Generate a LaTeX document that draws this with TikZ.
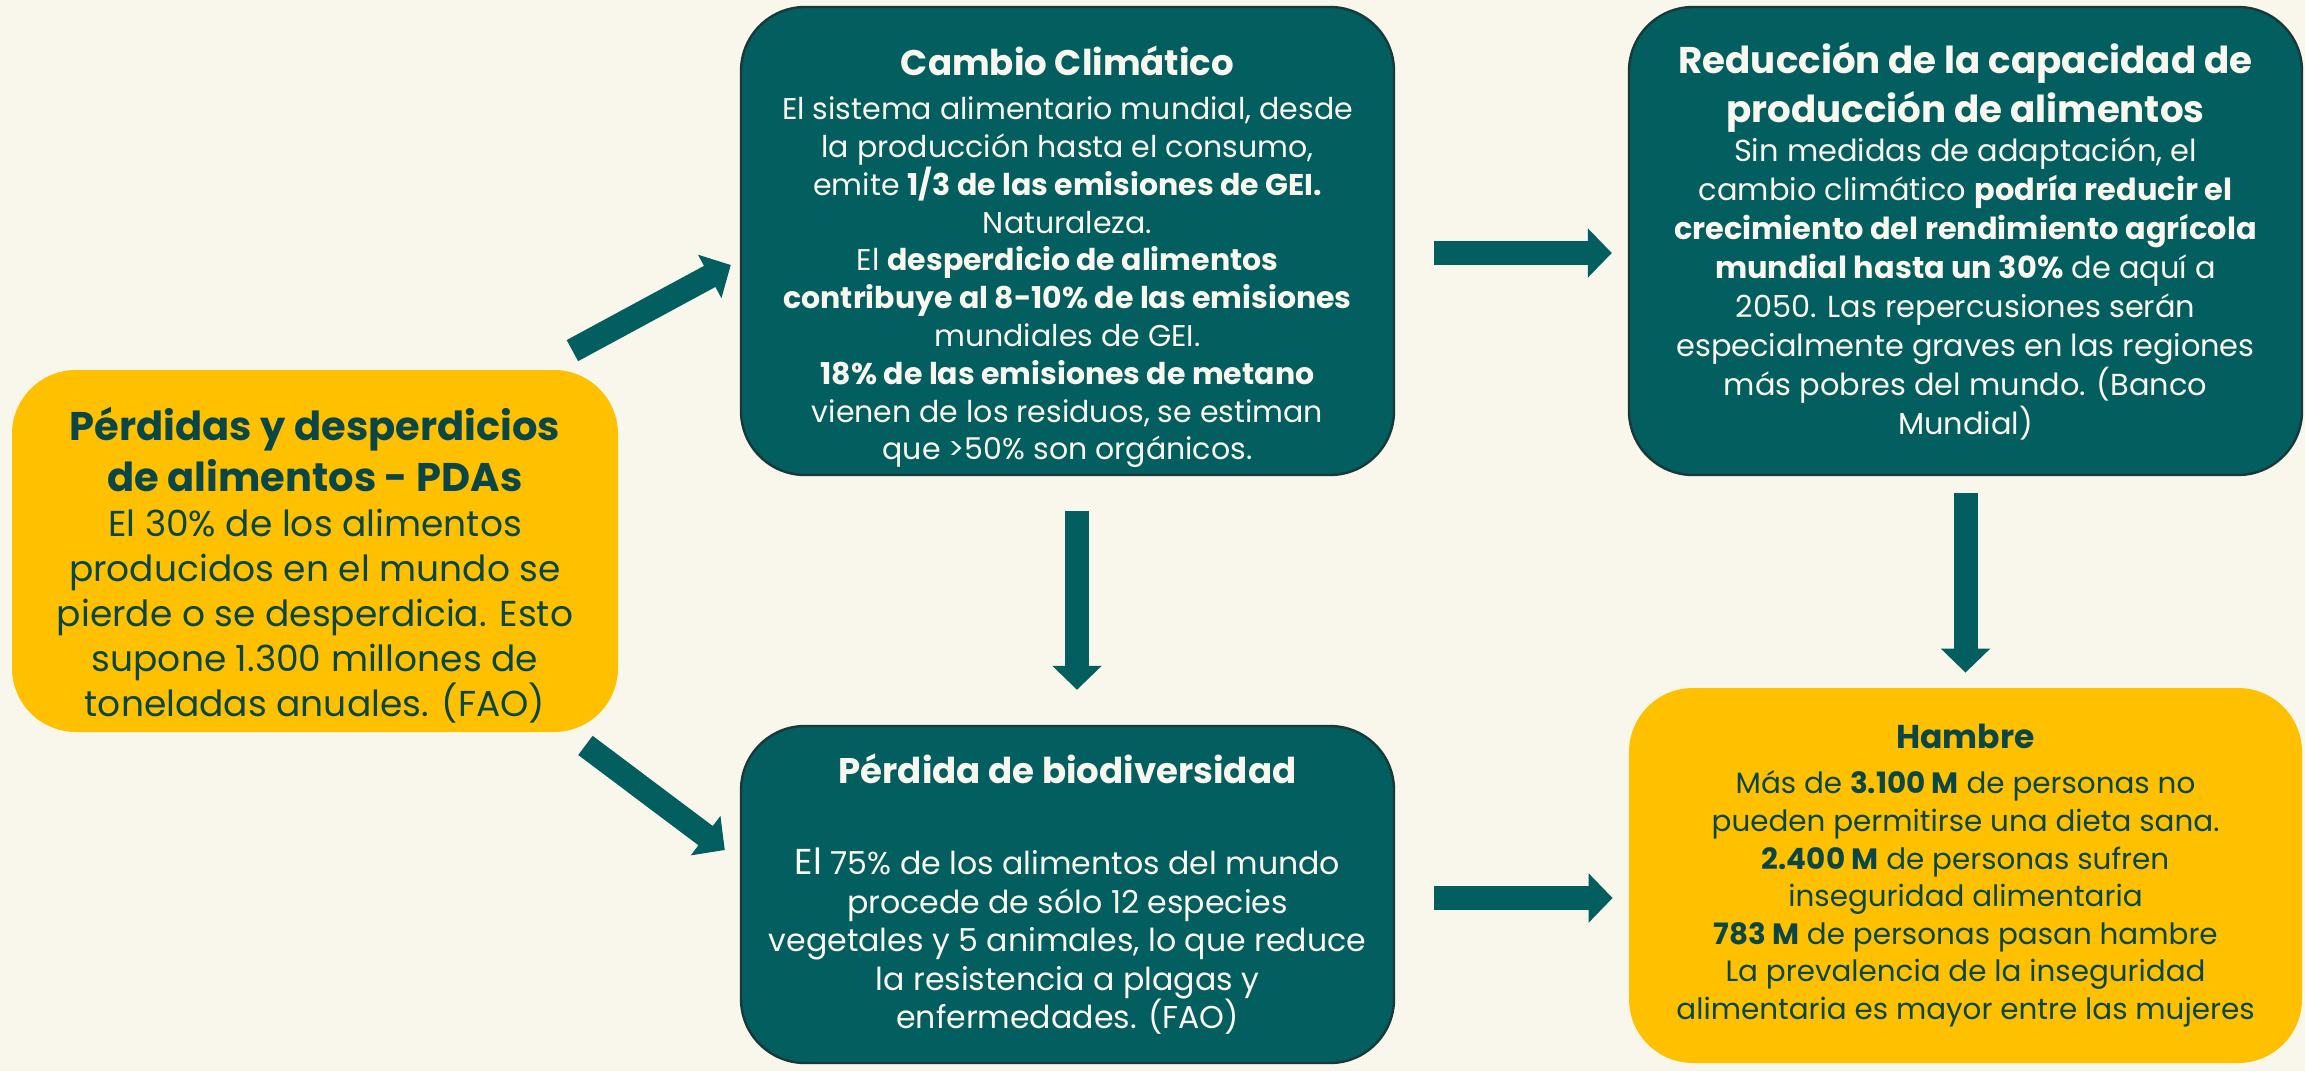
\documentclass[tikz,border=0pt]{standalone}
\usepackage{fontspec}
\setmainfont{Poppins}
\usetikzlibrary{arrows.meta}
\definecolor{bg}{HTML}{F9F7EC}
\definecolor{tealf}{HTML}{035E5F}
\definecolor{tealdk}{HTML}{17393A}
\definecolor{gold}{HTML}{FFC000}
\definecolor{darkt}{HTML}{0B4647}
\definecolor{cream}{HTML}{FAF8EE}
\newcommand{\tbig}{\bfseries\fontsize{20}{22.5}\selectfont}
\newcommand{\tmid}{\bfseries\fontsize{17.8}{18.8}\selectfont}
\newcommand{\tred}{\bfseries\fontsize{18.6}{18.8}\selectfont}
\newcommand{\tsm}{\bfseries\fontsize{16.5}{18.8}\selectfont}
\begin{document}
\begin{tikzpicture}[x=0.5pt,y=-0.5pt,
 box/.style={rounded corners=32pt, align=center, inner sep=0pt},
 tealbox/.style={box, fill=tealf, draw=tealdk, line width=1.2pt, text=cream},
 yelbox/.style={box, fill=gold, text=darkt},
 barrow/.style={draw=tealf, line width=12pt, -{Triangle[length=12pt,width=24pt]}},
]
\useasboundingbox[fill=bg] (0,0) rectangle (2305,1071);

\node[yelbox, minimum width=303pt, minimum height=181pt, font=\fontsize{18}{22.5}\selectfont] (pda) at (315,551) {%
{\tbig\rule{0pt}{31pt}Pérdidas y desperdicios}\\[3pt]
{\tbig de alimentos - PDAs}\\
El 30\% de los alimentos\\
producidos en el mundo se\\
pierde o se desperdicia. Esto\\
supone 1.300 millones de\\
toneladas anuales. (FAO)};

\node[tealbox, minimum width=326.5pt, minimum height=234pt, font=\fontsize{15}{18.9}\selectfont] (cc) at (1067.5,241) {%
{\tmid\rule{0pt}{31pt}Cambio Climático}\\[3pt]
El sistema alimentario mundial, desde\\
la producción hasta el consumo,\\
emite \textbf{1/3 de las emisiones de GEI.}\\
Naturaleza.\\
El \textbf{desperdicio de alimentos}\\
\textbf{contribuye al 8-10\% de las emisiones}\\
mundiales de GEI.\\
\textbf{18\% de las emisiones de metano}\\
vienen de los residuos, se estiman\\
que >50\% son orgánicos.};

\node[tealbox, minimum width=336.5pt, minimum height=234pt, font=\fontsize{15.2}{19.5}\selectfont] (red) at (1965.5,241) {%
{\tred Reducción de la capacidad de}\\[3pt]
{\tred producción de alimentos}\\
Sin medidas de adaptación, el\\
cambio climático \textbf{podría reducir el}\\
\textbf{crecimiento del rendimiento agrícola}\\
\textbf{mundial hasta un 30\%} de aquí a\\
2050. Las repercusiones serán\\
especialmente graves en las regiones\\
más pobres del mundo. (Banco\\
Mundial)};

\node[tealbox, minimum width=326.5pt, minimum height=168.5pt, font=\fontsize{15.8}{19.3}\selectfont] (bio) at (1067.5,894.5) {%
{\tmid Pérdida de biodiversidad}\\[26pt]
{\fontsize{18}{19.3}\selectfont El} 75\% de los alimentos del mundo\\
procede de sólo 12 especies\\
vegetales y 5 animales, lo que reduce\\
la resistencia a plagas y\\
enfermedades. (FAO)};

\node[yelbox, minimum width=336.5pt, minimum height=187.5pt, font=\fontsize{14.7}{18.8}\selectfont] (ham) at (1965.5,875.5) {%
{\tsm Hambre}\\[4pt]
Más de \textbf{3.100 M} de personas no\\
pueden permitirse una dieta sana.\\
\textbf{2.400 M} de personas sufren\\
inseguridad alimentaria\\
\textbf{783 M} de personas pasan hambre\\
La prevalencia de la inseguridad\\
alimentaria es mayor entre las mujeres};

\draw[barrow] ([shift={(-46,-19)}]pda.north east) -- ([shift={(-9,24)}]cc.west);
\draw[barrow] ([shift={(-33,13)}]pda.south east) -- ([shift={(-15,-44.5)}]bio.west);
\draw[barrow] ([shift={(9.5,35)}]cc.south) -- ([shift={(9.5,-35)}]bio.north);
\draw[barrow] ([shift={(39,12)}]cc.east) -- ([shift={(-16,12)}]red.west);
\draw[barrow] ([shift={(0,17)}]red.south) -- ([shift={(0,-15)}]ham.north);
\draw[barrow] ([shift={(39,3.5)}]bio.east) -- ([shift={(-16,22.5)}]ham.west);
\end{tikzpicture}
\end{document}
